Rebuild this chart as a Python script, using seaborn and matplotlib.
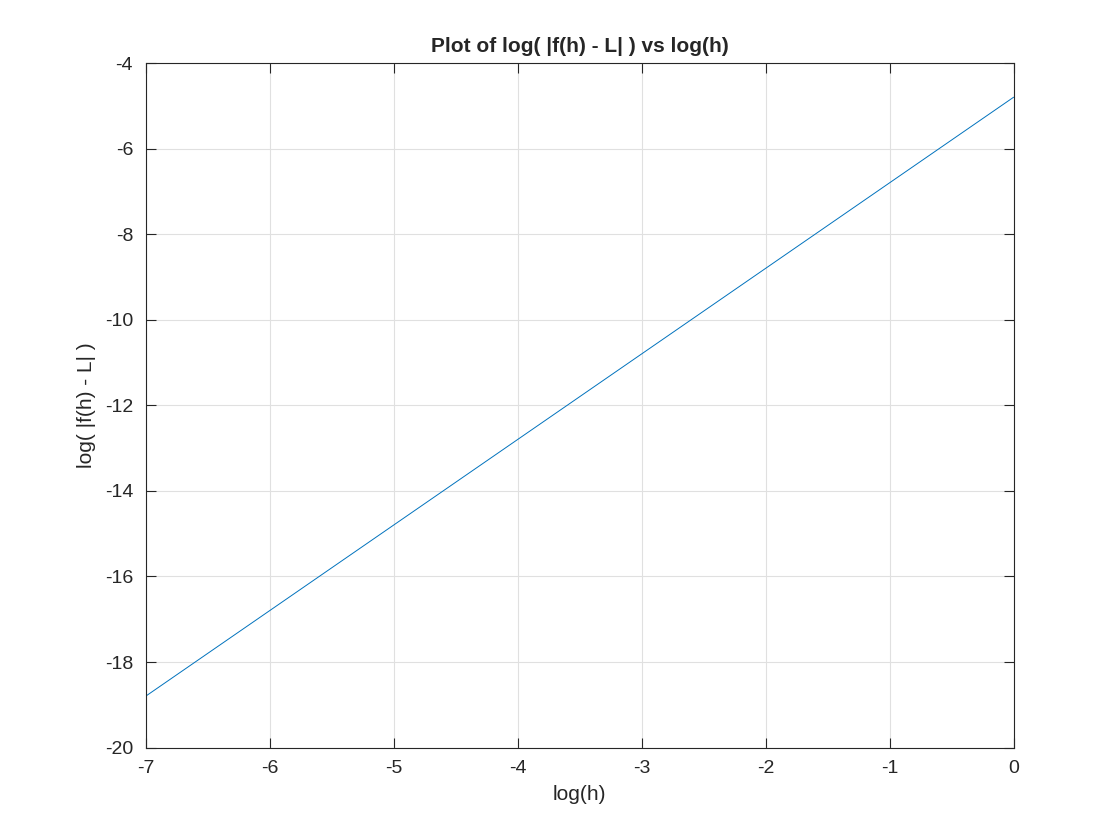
import seaborn as sns
import matplotlib.pyplot as plt
import pandas as pd

# values (straight line, slope 2)
log_h = [-7, -6, -5, -4, -3, -2, -1, 0]
log_err = [-18.8, -16.8, -14.8, -12.8, -10.8, -8.8, -6.8, -4.8]
x_ticks = [-7, -6, -5, -4, -3, -2, -1, 0]
y_ticks = [-20, -18, -16, -14, -12, -10, -8, -6, -4]

sns.set_theme(style="ticks")
plt.rcParams['font.family'] = ['Liberation Sans', 'DejaVu Sans']
plt.rcParams['axes.unicode_minus'] = False

df = pd.DataFrame({"log_h": log_h, "log_err": log_err})

fig = plt.figure(figsize=(11.2, 8.4), dpi=100)
ax = fig.add_axes([0.13, 0.11, 0.775, 0.815])

sns.lineplot(data=df, x="log_h", y="log_err", ax=ax, color="#0072BD", linewidth=0.7)

ax.set_xlim(-7, 0)
ax.set_ylim(-20, -4)
ax.set_xticks(x_ticks)
ax.set_yticks(y_ticks)
ax.grid(True, color="#e0e0e0", linewidth=0.8)
ax.set_axisbelow(True)
for side in ["top", "right", "left", "bottom"]:
    ax.spines[side].set_visible(True)
    ax.spines[side].set_color("#262626")
    ax.spines[side].set_linewidth(0.8)
ax.tick_params(direction="in", length=7, width=0.8, colors="#262626",
               labelsize=14, top=True, right=True, pad=9)

ax.set_xlabel("log(h)", fontsize=15, color="#262626", labelpad=6)
ax.set_ylabel("log( |f(h) - L| )", fontsize=15, color="#262626", labelpad=6)
ax.set_title("Plot of log( |f(h) - L| ) vs log(h)", fontsize=15, fontweight="bold", pad=8)

fig.savefig("out.png", dpi=100)
